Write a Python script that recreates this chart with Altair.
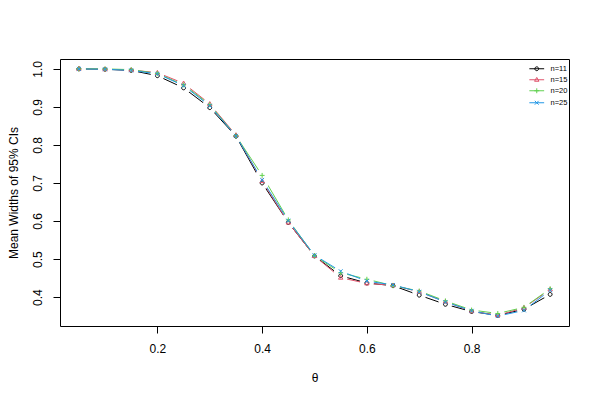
import altair as alt
import pandas as pd

theta = [0.05, 0.10, 0.15, 0.20, 0.25, 0.30, 0.35, 0.40, 0.45, 0.50,
         0.55, 0.60, 0.65, 0.70, 0.75, 0.80, 0.85, 0.90, 0.95]
series = ["n=11", "n=15", "n=20", "n=25"]
w11 = [1.000, 0.999, 0.996, 0.982, 0.950, 0.898, 0.823, 0.700, 0.596, 0.508,
       0.456, 0.437, 0.430, 0.405, 0.381, 0.362, 0.352, 0.368, 0.407]
w15 = [1.000, 0.999, 0.997, 0.990, 0.962, 0.908, 0.826, 0.705, 0.596, 0.508,
       0.451, 0.436, 0.431, 0.414, 0.388, 0.363, 0.352, 0.372, 0.420]
w20 = [1.000, 1.000, 0.998, 0.988, 0.958, 0.906, 0.824, 0.720, 0.603, 0.509,
       0.464, 0.447, 0.430, 0.416, 0.390, 0.366, 0.357, 0.373, 0.422]
w25 = [1.000, 0.999, 0.996, 0.987, 0.956, 0.903, 0.824, 0.708, 0.601, 0.510,
       0.468, 0.442, 0.432, 0.414, 0.387, 0.364, 0.350, 0.365, 0.418]
x_ticks = [0.2, 0.4, 0.6, 0.8]
y_ticks = [0.4, 0.5, 0.6, 0.7, 0.8, 0.9, 1.0]

colors = ["#000000", "#DF536B", "#61D04F", "#2297E6"]
marker_paths = [
    "M-0.7,0A0.7,0.7 0 1,0 0.7,0A0.7,0.7 0 1,0 -0.7,0",
    "M0,-0.85L0.8,0.55L-0.8,0.55Z",
    "M-0.9,0L0.9,0M0,-0.9L0,0.9",
    "M-0.7,-0.7L0.7,0.7M-0.7,0.7L0.7,-0.7",
]
legend_paths = ["M-2.7,0L2.7,0" + p for p in marker_paths]

rows = []
for s, vals in zip(series, [w11, w15, w20, w25]):
    for t, v in zip(theta, vals):
        rows.append({"theta": t, "width": v, "series": s})
df = pd.DataFrame(rows)

FONT = "Liberation Sans"

x_enc = alt.X("theta:Q",
              scale=alt.Scale(domain=[0.014, 0.986], nice=False, zero=False),
              axis=alt.Axis(values=x_ticks, format=".1f", title="θ",
                            grid=False, domain=False, tickSize=7,
                            tickColor="black", labelPadding=10,
                            labelFontSize=12, labelFont=FONT, labelColor="black",
                            titleFont=FONT, titleFontSize=12, titleFontWeight="normal",
                            titleColor="black", titlePadding=18))
y_enc = alt.Y("width:Q",
              scale=alt.Scale(domain=[0.324, 1.026], nice=False, zero=False),
              axis=alt.Axis(values=y_ticks, format=".1f", title="Mean Widths of 95% CIs",
                            grid=False, domain=False, tickSize=7,
                            tickColor="black", labelAngle=-90, labelAlign="center",
                            labelBaseline="bottom", labelPadding=9,
                            labelFontSize=12, labelFont=FONT, labelColor="black",
                            titleFont=FONT, titleFontSize=12, titleFontWeight="normal",
                            titleColor="black", titlePadding=11))

legend = alt.Legend(title=None, orient="none", legendX=473, legendY=6,
                    symbolOpacity=1, symbolSize=30, symbolStrokeWidth=1,
                    symbolFillColor="transparent",
                    labelFontSize=7.5, labelFont=FONT, labelColor="black",
                    labelOffset=10, rowPadding=2, padding=0)
color_enc = alt.Color("series:N", scale=alt.Scale(domain=series, range=colors), legend=legend)

base = alt.Chart(df)

lines = base.mark_line(strokeWidth=1).encode(x=x_enc, y=y_enc, color=color_enc)
halos = base.mark_circle(color="white", opacity=1, size=180).encode(
    x="theta:Q", y="width:Q")
marker_layers = []
for s, p in zip(series, marker_paths):
    marker_layers.append(
        base.transform_filter(alt.datum.series == s).mark_point(
            shape=p, filled=False, strokeWidth=1, size=30, opacity=1
        ).encode(x="theta:Q", y="width:Q", color=color_enc)
    )

legend_layer = base.mark_point(opacity=0, filled=False, size=30).encode(
    x="theta:Q", y="width:Q",
    color=color_enc,
    shape=alt.Shape("series:N", scale=alt.Scale(domain=series, range=legend_paths),
                    legend=legend),
)

chart = alt.layer(lines, halos, *marker_layers, legend_layer).properties(
    width=509, height=267,
    autosize=alt.AutoSizeParams(type="none"),
    padding={"left": 52, "top": 51, "right": 23, "bottom": 66},
).configure(background="white",
            view=alt.ViewConfig(stroke="black", strokeWidth=1))

chart.save("out.html", embed_options={"renderer": "svg", "actions": False})
